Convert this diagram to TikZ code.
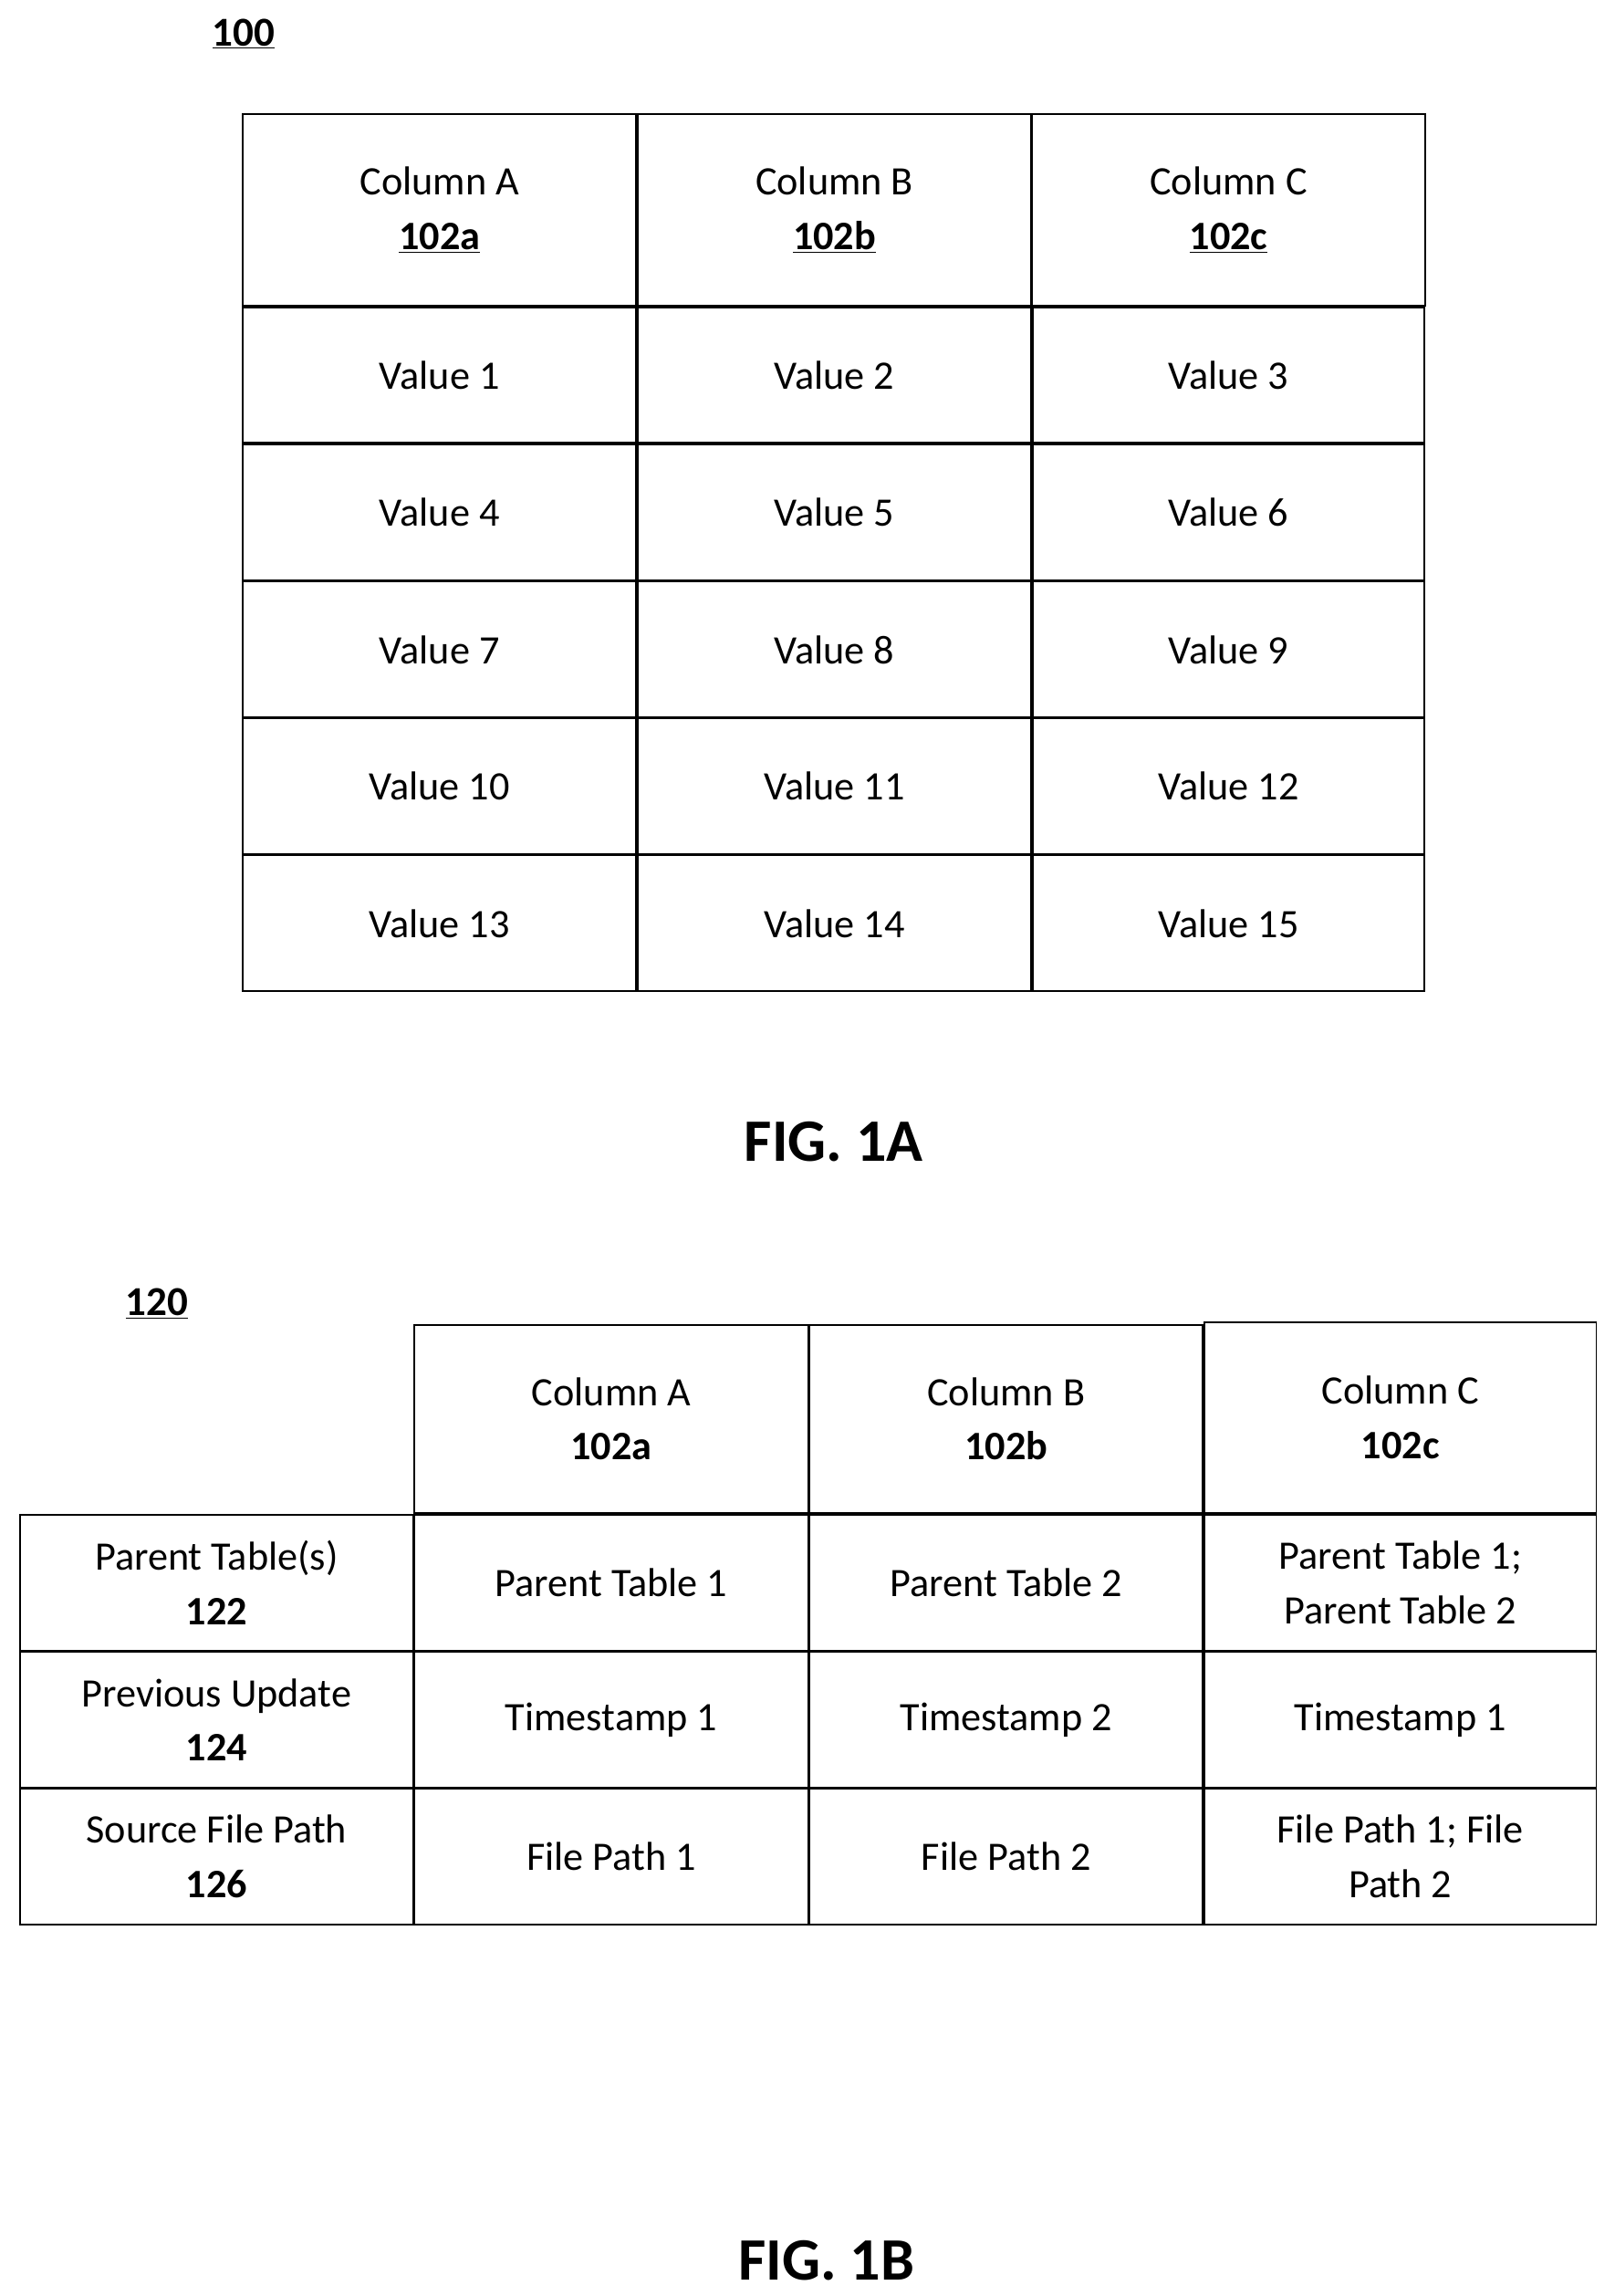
\documentclass[tikz,border=0pt]{standalone}
\usepackage{fontspec}
\setmainfont{Carlito}
\begin{document}
\begin{tikzpicture}[x=1pt,y=-1pt,
  cell/.style={draw,line width=1.2pt,inner sep=0pt,outer sep=0pt,align=center,font=\fontsize{27.5}{37}\selectfont},
  lbl/.style={font=\fontsize{28}{30}\selectfont\bfseries},
  fig/.style={font=\fontsize{41}{46}\selectfont\bfseries}]
\useasboundingbox (0,0) rectangle (1100,1564);
\node[lbl] (l100) at (166,23) {\underline{100}};
% Table 1
\foreach \c/\x/\t/\r in {a/299.5/Column A/102a, b/568.5/Column B/102b, c/837/Column C/102c}
  \node[cell,minimum width=268,minimum height=131] (h\c) at (\x,143) {\t\\\textbf{\underline{\r}}};
\foreach \row/\y/\n in {1/255.5/1, 2/349/4, 3/442.5/7, 4/535.5/10, 5/629/13}{
  \pgfmathtruncatemacro\na{\n}\pgfmathtruncatemacro\nb{\n+1}\pgfmathtruncatemacro\nc{\n+2}
  \node[cell,minimum width=268,minimum height=92.5] (v\row a) at (299.5,\y) {Value \na};
  \node[cell,minimum width=268,minimum height=92.5] (v\row b) at (568.5,\y) {Value \nb};
  \node[cell,minimum width=267,minimum height=92.5] (v\row c) at (837,\y) {Value \nc};
}
\node[fig] (f1a) at (568,778) {FIG. 1A};
% Table 2
\node[lbl] (l120) at (107,888) {\underline{120}};
\node[cell,minimum width=268,minimum height=128] (ha2) at (416.5,966.5) {Column A\\\textbf{102a}};
\node[cell,minimum width=268,minimum height=128] (hb2) at (685.5,966.5) {Column B\\\textbf{102b}};
\node[cell,minimum width=267,minimum height=130] (hc2) at (954,965.5) {Column C\\\textbf{102c}};
\foreach \r/\y/\l/\n/\a/\b/\cc in {
  p/1078/Parent Table(s)/122/Parent Table 1/Parent Table 2/{Parent Table 1;\\Parent Table 2},
  u/1171.5/Previous Update/124/Timestamp 1/Timestamp 2/Timestamp 1,
  s/1264.5/Source File Path/126/File Path 1/File Path 2/{File Path 1; File\\Path 2}}{
  \node[cell,minimum width=268,minimum height=92.5] (\r0) at (147.5,\y) {\l\\\textbf{\n}};
  \node[cell,minimum width=268,minimum height=92.5] (\r1) at (416.5,\y) {\a};
  \node[cell,minimum width=268,minimum height=92.5] (\r2) at (685.5,\y) {\b};
  \node[cell,minimum width=267,minimum height=92.5] (\r3) at (954,\y) {\cc};
}
\node[fig] (f1b) at (563,1540) {FIG. 1B};
\end{tikzpicture}
\end{document}
